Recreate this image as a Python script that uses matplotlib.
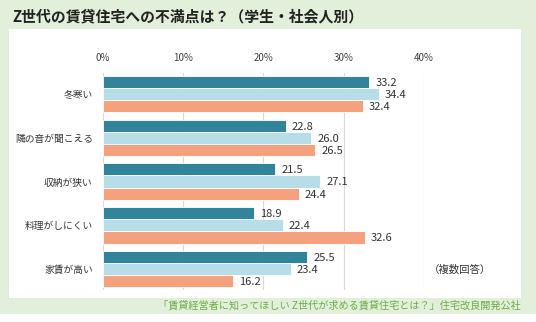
import numpy as np
import matplotlib.pyplot as plt
from matplotlib.patches import Rectangle

plt.rcParams['font.family'] = ['Noto Sans CJK JP', 'DejaVu Sans']

# data
categories = ['冬寒い', '隣の音が聞こえる', '収納が狭い', '料理がしにくい', '家賃が高い']
series1 = [33.2, 22.8, 21.5, 18.9, 25.5]
series2 = [34.4, 26.0, 27.1, 22.4, 23.4]
series3 = [32.4, 26.5, 24.4, 32.6, 16.2]
xticks = [0, 10, 20, 30, 40]

colors = ['#31849b', '#b7dde8', '#f4a17e']
W, H = 536, 322

fig = plt.figure(figsize=(W / 100, H / 100), dpi=100)
fig.patch.set_facecolor('#e2efda')

# white panel + white strip at the very bottom
fig.patches.append(Rectangle((9 / W, 1 - 297.7 / H), 512 / W, 268.4 / H,
                             transform=fig.transFigure, facecolor='white',
                             edgecolor='none', zorder=0))
fig.patches.append(Rectangle((0, 0), 1, 8 / H, transform=fig.transFigure,
                             facecolor='white', edgecolor='none', zorder=0))

ax = fig.add_axes([102.5 / W, 1 - 290 / H, 321.5 / W, 217.3 / H])
ax.set_facecolor('none')
ax.set_zorder(2)

y = np.arange(len(categories))
h = 0.279
for k, vals in enumerate([series1, series2, series3]):
    pos = y + (k - 1) * h
    ax.barh(pos, vals, height=h, color=colors[k], edgecolor='white',
            linewidth=0.6, zorder=3)
    for p, v in zip(pos, vals):
        ax.text(v + 0.75, p + 0.02, '%.1f' % v, va='center', ha='left',
                fontsize=8, color='#333333', zorder=4)

ax.set_xlim(0, 40)
ax.set_ylim(4.48, -0.49)
ax.set_xticks(xticks)
ax.set_xticklabels(['%d%%' % t for t in xticks], fontsize=7, color='#404040')
ax.xaxis.tick_top()
ax.tick_params(axis='x', length=0, pad=7)
ax.set_yticks(y)
ax.set_yticklabels(categories, fontsize=7, color='#333333')
ax.tick_params(axis='y', length=0, pad=7)
ax.grid(axis='x', color='#d9d9d9', linewidth=0.8, zorder=0)
ax.set_axisbelow(True)
for s in ax.spines.values():
    s.set_visible(False)

fig.text(12 / W, 1 - 16 / H, 'Z世代の賃貸住宅への不満点は？（学生・社会人別）',
         fontsize=10.7, fontweight='bold', color='#222222', va='center', ha='left')
fig.text(460 / W, 1 - 270 / H, '（複数回答）', fontsize=7.5, color='#333333',
         va='center', ha='center')
fig.text(521 / W, 1 - 306 / H, '「賃貸経営者に知ってほしい Z世代が求める賃貸住宅とは？」住宅改良開発公社',
         fontsize=7.3, color='#6aae48', va='center', ha='right')

fig.savefig('out.png', dpi=100, facecolor=fig.get_facecolor())
